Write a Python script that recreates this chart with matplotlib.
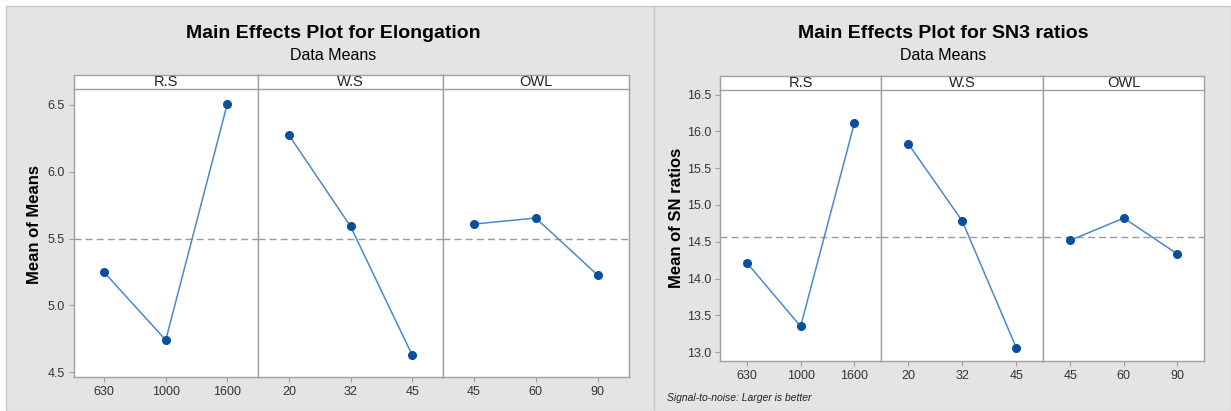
import numpy as np
import matplotlib.pyplot as plt
from matplotlib.patches import Rectangle

# factor levels
factors = ["R.S", "W.S", "OWL"]
levels = {
    "R.S": ["630", "1000", "1600"],
    "W.S": ["20", "32", "45"],
    "OWL": ["45", "60", "90"],
}

# mean response at each level
elong_means = {
    "R.S": [5.247, 4.741, 6.505],
    "W.S": [6.274, 5.591, 4.629],
    "OWL": [5.608, 5.653, 5.227],
}
sn_means = {
    "R.S": [14.214, 13.349, 16.111],
    "W.S": [15.833, 14.782, 13.058],
    "OWL": [14.519, 14.822, 14.333],
}

elong_ticks = [4.5, 5.0, 5.5, 6.0, 6.5]
sn_ticks = [13.0, 13.5, 14.0, 14.5, 15.0, 15.5, 16.0, 16.5]

W, H = 1231, 411
plt.rcParams['font.family'] = ['Liberation Sans', 'DejaVu Sans']

fig = plt.figure(figsize=(W / 100, H / 100), dpi=100)
fig.patch.set_facecolor("white")

FRAME = "#a0a0a0"
LINE = "#4d88c9"
MARK = "#0a4f9e"
TICKTXT = "#333333"


def box(x0, y0, x1, y1):
    # pixel box (top-left origin) -> figure fraction rect
    return [x0 / W, 1 - y1 / H, (x1 - x0) / W, (y1 - y0) / H]


# grey page background with light border
bg = Rectangle((6 / W, 0), 1 - 6 / W, 1 - 6 / H, transform=fig.transFigure,
               facecolor="#e4e4e4", edgecolor="#c8c8c8", linewidth=1, zorder=-10)
fig.patches.append(bg)
fig.add_artist(plt.Line2D([654 / W, 654 / W], [0, 1 - 6 / H], transform=fig.transFigure,
                          color="#c8c8c8", linewidth=1))


def main_effects(edges, strip_top, plot_top, plot_bot, data, ylim, yticks):
    grand = np.mean(np.concatenate([data[f] for f in factors]))
    axes = []
    for i, f in enumerate(factors):
        x0, x1 = edges[i], edges[i + 1]
        ax = fig.add_axes(box(x0, plot_top, x1, plot_bot))
        vals = data[f]
        xs = np.arange(1, len(vals) + 1)
        ax.axhline(grand, color="#9a9a9a", linestyle=(0, (5, 3)), linewidth=1, zorder=1)
        ax.plot(xs, vals, color=LINE, linewidth=1.1, zorder=2)
        ax.plot(xs, vals, "o", color=MARK, markersize=5.5, zorder=3)
        ax.set_xlim(0.5, len(vals) + 0.5)
        ax.set_ylim(*ylim)
        ax.set_xticks(xs)
        ax.set_xticklabels(levels[f])
        ax.set_yticks(yticks)
        ax.set_yticklabels([f"{t:.1f}" for t in yticks])
        ax.tick_params(axis="both", colors=FRAME, labelcolor=TICKTXT, labelsize=9,
                       length=3.5, width=0.8, pad=3, direction="out")
        if i > 0:
            ax.tick_params(axis="y", left=False, labelleft=False)
        for s in ax.spines.values():
            s.set_color(FRAME)
            s.set_linewidth(1)
        ax.spines["top"].set_visible(False)

        sax = fig.add_axes(box(x0, strip_top, x1, plot_top))
        sax.set_xticks([])
        sax.set_yticks([])
        for s in sax.spines.values():
            s.set_color(FRAME)
            s.set_linewidth(1)
        sax.text(0.5, 0.5, f, ha="center", va="center", fontsize=10.5,
                 color="#222222", transform=sax.transAxes)
        axes.append(ax)
    return axes


main_effects([73.5, 258, 443, 628.5], 74.7, 89.3, 377, elong_means,
             (4.465, 6.615), elong_ticks)
main_effects([720, 881.2, 1043.3, 1204.3], 75.7, 90, 361, sn_means,
             (12.878, 16.564), sn_ticks)

# titles
fig.text(333 / W, 1 - 33 / H, "Main Effects Plot for Elongation", ha="center",
         va="center", fontsize=14, fontweight="bold")
fig.text(333 / W, 1 - 55 / H, "Data Means", ha="center", va="center", fontsize=11.5)
fig.text(943 / W, 1 - 33 / H, "Main Effects Plot for SN3 ratios", ha="center",
         va="center", fontsize=14, fontweight="bold")
fig.text(943 / W, 1 - 55 / H, "Data Means", ha="center", va="center", fontsize=11.5)

# y axis labels
fig.text(34.7 / W, 1 - 225 / H, "Mean of Means", rotation=90, ha="center",
         va="center", fontsize=12, fontweight="bold")
fig.text(677 / W, 1 - 218 / H, "Mean of SN ratios", rotation=90, ha="center",
         va="center", fontsize=12, fontweight="bold")

fig.text(667 / W, 1 - 398 / H, "Signal-to-noise: Larger is better", ha="left",
         va="center", fontsize=7.5, fontstyle="italic", color="#222222")

fig.savefig("out.png", dpi=100, facecolor=fig.get_facecolor())
